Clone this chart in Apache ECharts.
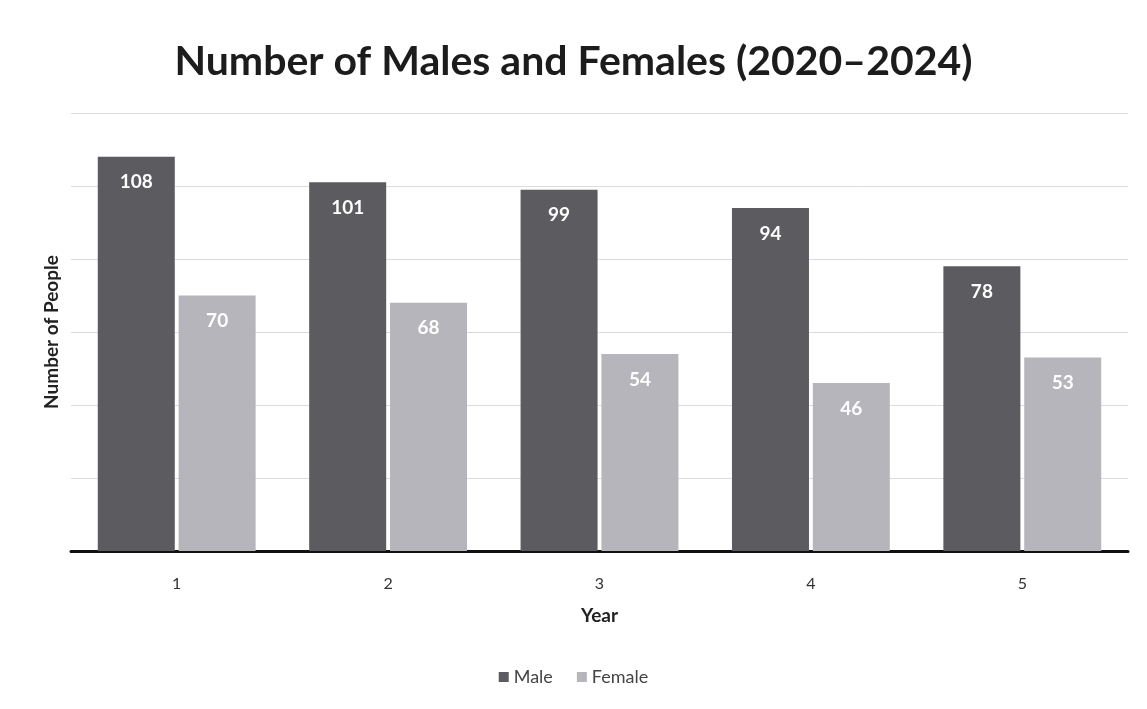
<!DOCTYPE html>
<html>
<head>
<meta charset="utf-8">
<title>Number of Males and Females</title>
<script src="https://cdn.jsdelivr.net/npm/echarts@6/dist/echarts.min.js"></script>
<style>
  html, body { margin: 0; padding: 0; background: #fff; }
  #main { width: 1147px; height: 709px; }
</style>
</head>
<body>
<div id="main"></div>
<script type="text/javascript">
    var years = ['1', '2', '3', '4', '5'];
    var male = [108, 101, 99, 94, 78];
    var female = [70, 68, 54, 46, 53];

    var font = 'Lato, "Open Sans", sans-serif';
    var chart = echarts.init(document.getElementById('main'));

    var barLabel = {
        show: true,
        position: 'insideTop',
        distance: 16,
        color: '#fff',
        fontFamily: font,
        fontWeight: 'bold',
        fontSize: 19
    };

    chart.setOption({
        backgroundColor: '#fff',
        title: {
            text: 'Number of Males and Females (2020\u20132024)',
            left: 'center',
            top: 36,
            textStyle: { fontFamily: font, fontSize: 41, fontWeight: 'bold', color: '#1c1c1c' }
        },
        legend: {
            bottom: 18,
            left: 'center',
            icon: 'rect',
            itemWidth: 10,
            itemHeight: 10,
            itemGap: 24,
            textStyle: { fontFamily: font, fontSize: 18, color: '#444' },
            data: ['Male', 'Female']
        },
        grid: { left: 71, right: 19, top: 113, bottom: 158 },
        xAxis: {
            type: 'category',
            data: years,
            name: 'Year',
            nameLocation: 'middle',
            nameGap: 55,
            nameTextStyle: { fontFamily: font, fontSize: 19, fontWeight: 'bold', color: '#222' },
            axisLine: { lineStyle: { color: '#111', width: 3 } },
            axisTick: { show: false },
            axisLabel: { margin: 25, fontFamily: font, fontSize: 16, color: '#333' }
        },
        yAxis: {
            type: 'value',
            min: 0,
            max: 120,
            interval: 20,
            name: 'Number of People',
            nameLocation: 'middle',
            nameGap: 10,
            nameTextStyle: { fontFamily: font, fontSize: 19, fontWeight: 'bold', color: '#222' },
            axisLabel: { show: false },
            axisLine: { show: false },
            axisTick: { show: false },
            splitLine: { lineStyle: { color: '#dcdce0', width: 1 } }
        },
        series: [
            {
                name: 'Male',
                type: 'bar',
                data: male,
                barWidth: 77,
                barGap: '5%',
                itemStyle: { color: '#5b5b60' },
                label: barLabel
            },
            {
                name: 'Female',
                type: 'bar',
                data: female,
                barWidth: 77,
                itemStyle: { color: '#b5b5bb' },
                label: barLabel
            }
        ]
    });
</script>
</body>
</html>
